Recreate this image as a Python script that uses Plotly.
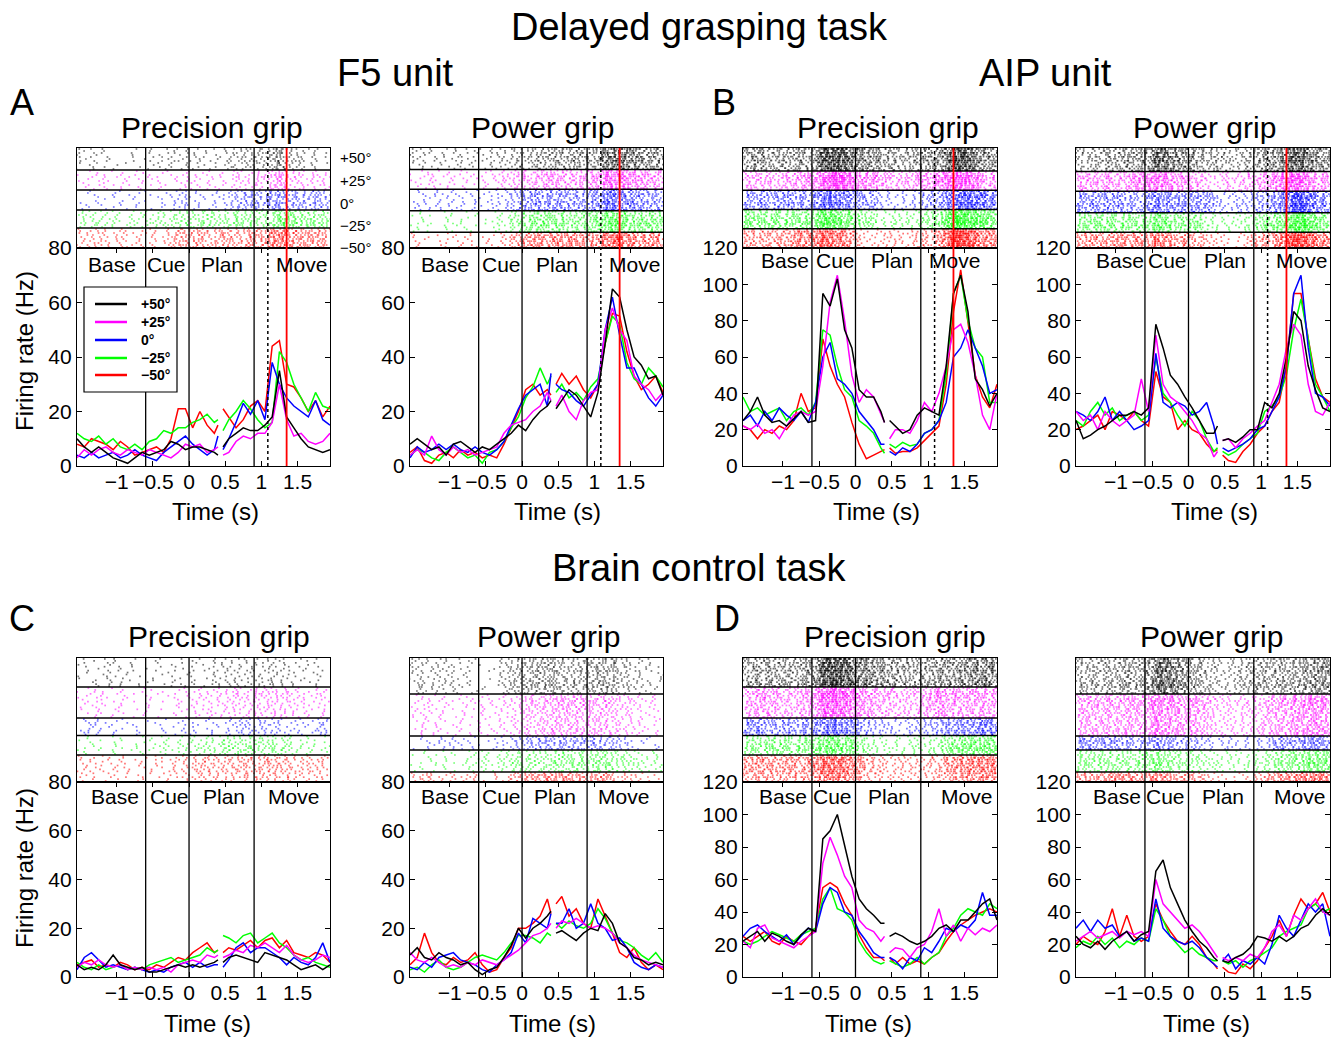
import numpy as np
import plotly.graph_objects as go

W, H = 1339, 1039
FONT = "Liberation Sans, Arial, Helvetica, sans-serif"

# ---------------- data ----------------
CONDITIONS = ["+50°", "+25°", "0°", "−25°", "−50°"]
COLORS = ["#000000", "#FF00FF", "#0000FF", "#00FF00", "#FF0000"]
T1 = [-1.55, -1.45, -1.35, -1.25, -1.15, -1.05, -0.95, -0.85, -0.75, -0.65, -0.55,
      -0.45, -0.35, -0.25, -0.15, -0.05, 0.05, 0.15, 0.25, 0.35, 0.40]
T2 = [0.47, 0.55, 0.65, 0.75, 0.85, 0.95, 1.05, 1.15, 1.25, 1.35, 1.45, 1.55, 1.65, 1.75, 1.85, 1.95]
X_TICKS = [-1, -0.5, 0, 0.5, 1, 1.5]
X_TICK_LABELS = ["−1", "−0.5", "0", "0.5", "1", "1.5"]
EPOCHS = ["Base", "Cue", "Plan", "Move"]
EVENT_TIMES = [-0.6, 0.0, 0.9]
GO_TIME = 1.09      # dotted line (delayed task only)
MOVE_TIME = 1.35    # red line (delayed task only)

# firing rates (Hz), segment 1 on T1, segment 2 on T2
A_PRECISION = {
    "+50°": ([10, 7, 5, 7, 5, 3, 2, 1, 3, 5, 4, 5, 6, 9, 8, 6, 7, 7, 6, 5, 4],
             [7, 10, 12, 14, 13, 13, 15, 18, 35, 18, 14, 10, 7, 6, 5, 6]),
    "+25°": ([3, 6, 4, 6, 7, 5, 4, 6, 5, 4, 6, 5, 4, 3, 5, 8, 7, 8, 5, 6, 7],
             [4, 5, 9, 11, 10, 12, 12, 16, 30, 17, 11, 12, 9, 8, 9, 12]),
    "0°": ([4, 3, 5, 3, 4, 5, 3, 4, 6, 4, 3, 2, 5, 7, 9, 11, 8, 6, 4, 6, 11],
           [6, 10, 16, 23, 19, 24, 17, 38, 30, 25, 22, 20, 18, 24, 17, 15]),
    "−25°": ([12, 10, 9, 11, 8, 10, 7, 6, 8, 6, 9, 10, 13, 12, 14, 14, 16, 17, 19, 16, 17],
             [13, 17, 20, 24, 21, 17, 14, 16, 42, 38, 30, 25, 20, 27, 22, 21]),
    "−50°": ([8, 7, 10, 9, 8, 6, 9, 7, 4, 5, 6, 7, 5, 10, 21, 21, 14, 20, 15, 12, 15],
             [21, 18, 14, 17, 22, 24, 20, 44, 46, 30, 29, 25, 20, 24, 18, 22]),
}
A_POWER = {
    "+50°": ([8, 10, 8, 6, 7, 4, 8, 9, 7, 5, 7, 6, 8, 10, 12, 15, 13, 17, 20, 22, 24],
             [21, 24, 28, 26, 22, 18, 27, 45, 65, 62, 50, 40, 37, 32, 33, 26]),
    "+25°": ([4, 6, 4, 11, 6, 4, 7, 5, 6, 4, 5, 6, 7, 12, 15, 16, 17, 20, 22, 27, 24],
             [22, 26, 20, 17, 24, 27, 28, 50, 58, 50, 46, 33, 30, 28, 24, 27]),
    "0°": ([3, 7, 5, 6, 8, 6, 8, 6, 5, 7, 5, 4, 6, 9, 15, 21, 26, 28, 30, 22, 34],
           [30, 28, 27, 24, 22, 26, 30, 50, 62, 48, 36, 36, 30, 25, 22, 26]),
    "−25°": ([4, 6, 5, 3, 2, 5, 7, 5, 3, 4, 1, 5, 6, 9, 14, 18, 25, 29, 36, 30, 33],
             [27, 30, 25, 27, 24, 29, 32, 45, 55, 52, 38, 32, 30, 36, 33, 29]),
    "−50°": ([5, 7, 2, 1, 4, 5, 3, 6, 4, 5, 3, 4, 3, 8, 14, 20, 28, 30, 26, 28, 26],
             [30, 34, 30, 33, 28, 25, 30, 45, 56, 55, 42, 33, 28, 30, 33, 27]),
}
B_PRECISION = {
    "+50°": ([25, 30, 38, 28, 24, 25, 22, 26, 30, 24, 25, 95, 88, 103, 75, 65, 42, 38, 38, 30, 24],
             [25, 22, 18, 20, 28, 32, 30, 28, 55, 95, 105, 85, 48, 42, 33, 40]),
    "+25°": ([22, 20, 23, 18, 20, 15, 22, 28, 30, 28, 30, 55, 90, 105, 80, 50, 35, 42, 38, 28, 24],
             [15, 20, 20, 18, 25, 35, 30, 40, 55, 75, 78, 68, 50, 28, 20, 40]),
    "0°": ([25, 28, 22, 30, 25, 32, 28, 25, 30, 24, 35, 60, 68, 48, 45, 40, 30, 25, 20, 12, 12],
           [8, 6, 10, 8, 12, 18, 20, 25, 35, 60, 65, 75, 65, 55, 40, 42]),
    "−25°": ([38, 30, 32, 28, 30, 32, 25, 30, 32, 28, 35, 75, 72, 55, 42, 38, 25, 22, 18, 10, 7],
             [12, 10, 13, 11, 12, 18, 20, 25, 50, 95, 105, 80, 65, 60, 35, 35]),
    "−50°": ([22, 20, 15, 20, 18, 22, 20, 25, 40, 30, 32, 70, 55, 45, 38, 24, 12, 4, 6, 8, 9],
             [10, 7, 8, 8, 10, 14, 18, 22, 45, 85, 108, 80, 50, 38, 32, 45]),
}
B_POWER = {
    "+50°": ([25, 15, 17, 20, 22, 25, 28, 28, 30, 28, 32, 78, 65, 50, 45, 38, 32, 25, 18, 18, 22],
             [14, 15, 13, 16, 20, 20, 35, 32, 40, 60, 85, 80, 55, 42, 32, 30]),
    "+25°": ([30, 25, 28, 20, 30, 25, 22, 25, 28, 48, 30, 72, 45, 38, 35, 30, 25, 18, 15, 5, 8],
             [14, 15, 10, 15, 18, 22, 25, 35, 45, 65, 78, 72, 45, 30, 28, 35]),
    "0°": ([30, 28, 25, 30, 38, 25, 30, 25, 20, 22, 25, 62, 35, 32, 35, 33, 28, 30, 35, 22, 12],
           [10, 8, 10, 12, 15, 20, 22, 30, 38, 55, 95, 105, 65, 40, 38, 33]),
    "−25°": ([25, 22, 30, 35, 28, 32, 25, 28, 30, 25, 28, 60, 40, 35, 28, 22, 30, 25, 15, 8, 10],
             [8, 6, 8, 12, 15, 18, 30, 33, 38, 50, 75, 92, 70, 45, 38, 30]),
    "−50°": ([20, 22, 25, 28, 20, 30, 28, 25, 30, 25, 22, 52, 38, 35, 20, 25, 20, 18, 12, 8, 9],
             [6, 3, 2, 8, 12, 18, 22, 30, 35, 55, 95, 95, 70, 48, 38, 35]),
}
C_PRECISION = {
    "+50°": ([5, 3, 4, 3, 5, 9, 5, 4, 3, 4, 2, 2, 3, 4, 5, 4, 5, 4, 5, 6, 7],
             [6, 8, 9, 8, 7, 6, 10, 9, 8, 7, 5, 3, 4, 5, 3, 5]),
    "+25°": ([4, 6, 5, 7, 5, 4, 5, 3, 4, 3, 4, 3, 4, 2, 5, 6, 7, 6, 9, 8, 9],
             [8, 9, 11, 10, 13, 12, 14, 12, 10, 13, 9, 7, 6, 7, 9, 8]),
    "0°": ([3, 8, 10, 7, 4, 5, 4, 3, 4, 3, 2, 3, 2, 4, 5, 6, 4, 6, 4, 5, 5],
           [4, 7, 12, 14, 10, 12, 12, 10, 8, 5, 8, 6, 5, 8, 14, 6]),
    "−25°": ([6, 4, 3, 5, 3, 4, 5, 3, 4, 3, 5, 6, 7, 8, 6, 7, 8, 9, 12, 10, 11],
             [17, 16, 14, 17, 18, 14, 16, 18, 14, 12, 9, 7, 8, 6, 5, 4]),
    "−50°": ([5, 6, 7, 4, 5, 4, 6, 5, 3, 4, 3, 5, 4, 6, 8, 7, 10, 12, 14, 10, 11],
             [10, 12, 11, 13, 15, 12, 15, 16, 12, 15, 10, 9, 8, 10, 9, 6]),
}
C_POWER = {
    "+50°": ([9, 12, 8, 7, 10, 8, 7, 5, 6, 3, 1, 3, 4, 8, 13, 20, 16, 20, 22, 25, 27],
             [18, 19, 17, 15, 18, 20, 19, 26, 22, 14, 12, 8, 7, 5, 6, 5]),
    "+25°": ([10, 7, 6, 8, 6, 4, 5, 4, 6, 5, 7, 6, 5, 7, 9, 11, 14, 17, 18, 20, 22],
             [20, 23, 22, 24, 22, 20, 21, 20, 18, 14, 12, 9, 7, 6, 5, 4]),
    "0°": ([4, 3, 6, 4, 8, 9, 10, 7, 6, 5, 3, 2, 5, 7, 10, 18, 14, 24, 22, 20, 26],
           [22, 22, 28, 20, 22, 30, 22, 20, 15, 16, 12, 6, 4, 3, 5, 4]),
    "−25°": ([3, 4, 2, 5, 7, 4, 3, 4, 6, 8, 9, 8, 7, 10, 14, 17, 17, 16, 14, 18, 17],
             [22, 20, 23, 21, 20, 22, 28, 24, 18, 15, 14, 12, 9, 7, 10, 6]),
    "−50°": ([5, 8, 18, 10, 6, 5, 8, 6, 7, 10, 5, 2, 3, 8, 12, 20, 20, 22, 25, 32, 26],
             [30, 33, 25, 28, 22, 20, 32, 25, 18, 10, 8, 12, 6, 3, 5, 3]),
}
D_PRECISION = {
    "+50°": ([22, 25, 28, 22, 27, 25, 22, 20, 26, 30, 28, 85, 90, 100, 80, 62, 48, 42, 38, 33, 33],
             [25, 27, 25, 22, 20, 22, 25, 30, 32, 28, 35, 35, 40, 45, 48, 35]),
    "+25°": ([22, 18, 30, 32, 24, 22, 20, 18, 22, 25, 28, 70, 86, 75, 62, 55, 35, 30, 28, 22, 25],
             [15, 18, 17, 12, 18, 20, 28, 42, 25, 32, 22, 30, 26, 30, 28, 32]),
    "0°": ([25, 30, 32, 28, 25, 22, 26, 20, 25, 30, 28, 45, 55, 52, 40, 38, 28, 22, 15, 12, 12],
           [12, 10, 5, 12, 10, 18, 15, 22, 30, 28, 32, 30, 35, 52, 38, 38]),
    "−25°": ([22, 20, 22, 25, 28, 26, 24, 22, 26, 28, 30, 48, 55, 42, 40, 35, 22, 15, 10, 8, 9],
             [10, 8, 6, 8, 12, 8, 12, 15, 25, 30, 38, 42, 40, 38, 45, 42]),
    "−50°": ([25, 22, 25, 28, 22, 20, 25, 22, 20, 25, 30, 55, 58, 55, 45, 38, 26, 18, 12, 12, 10],
             [12, 8, 12, 8, 10, 8, 12, 15, 22, 28, 32, 35, 38, 40, 42, 40]),
}
D_POWER = {
    "+50°": ([25, 20, 18, 22, 17, 22, 25, 28, 22, 26, 28, 65, 72, 55, 45, 35, 28, 22, 18, 12, 10],
             [10, 9, 12, 14, 18, 25, 24, 22, 25, 22, 25, 30, 32, 38, 42, 38]),
    "+25°": ([22, 25, 28, 24, 26, 28, 24, 28, 26, 28, 25, 60, 45, 40, 35, 30, 32, 28, 22, 15, 12],
             [12, 10, 12, 10, 14, 12, 18, 28, 32, 25, 38, 35, 42, 48, 40, 38]),
    "0°": ([30, 35, 28, 35, 30, 32, 25, 28, 22, 24, 22, 48, 30, 25, 22, 20, 22, 18, 12, 8, 6],
           [10, 14, 5, 10, 8, 12, 8, 20, 38, 30, 25, 35, 45, 40, 45, 25]),
    "−25°": ([18, 22, 20, 25, 20, 24, 18, 22, 20, 24, 22, 42, 35, 25, 20, 15, 18, 14, 12, 10, 10],
             [10, 8, 10, 6, 10, 12, 15, 18, 25, 28, 30, 32, 42, 45, 40, 42]),
    "−50°": ([20, 25, 22, 20, 28, 42, 25, 38, 25, 22, 25, 45, 35, 28, 22, 20, 25, 20, 12, 8, 5],
             [6, 3, 2, 8, 5, 10, 18, 25, 35, 25, 38, 48, 42, 45, 52, 40]),
}

# trials per condition (raster rows)
TRIALS_A_PRECISION = [11, 10, 10, 9, 10]
TRIALS_A_POWER = [11, 10, 11, 11, 8]
TRIALS_B_PRECISION = [12, 10, 10, 10, 10]
TRIALS_B_POWER = [12, 10, 11, 10, 8]
TRIALS_C_PRECISION = [15, 16, 9, 10, 14]
TRIALS_C_POWER = [18, 21, 7, 11, 5]
TRIALS_D_PRECISION = [15, 16, 9, 10, 14]
TRIALS_D_POWER = [18, 21, 7, 11, 5]

# ---------------- layout geometry (pixels) ----------------
TOP = dict(rt=148, pt=248, pb=466)
BOT = dict(rt=658, pt=782, pb=977)
COLS = [(77, 330), (410, 663), (743, 997), (1076, 1330)]

PANELS = [
    dict(data=A_PRECISION, trials=TRIALS_A_PRECISION, col=0, row=TOP, ymax=80, delayed=True,
         title="Precision grip", tx=212, ty=127, timex=215, timey=511,
         ep=[-1.07, -0.31, 0.46, 1.55], epy=74),
    dict(data=A_POWER, trials=TRIALS_A_POWER, col=1, row=TOP, ymax=80, delayed=True,
         title="Power grip", tx=542, ty=127, timex=557, timey=511,
         ep=[-1.07, -0.28, 0.49, 1.56], epy=74),
    dict(data=B_PRECISION, trials=TRIALS_B_PRECISION, col=2, row=TOP, ymax=120, delayed=True,
         title="Precision grip", tx=888, ty=127, timex=876, timey=511,
         ep=[-0.97, -0.28, 0.50, 1.37], epy=113),
    dict(data=B_POWER, trials=TRIALS_B_POWER, col=3, row=TOP, ymax=120, delayed=True,
         title="Power grip", tx=1204, ty=127, timex=1214, timey=511,
         ep=[-0.95, -0.29, 0.50, 1.56], epy=113),
    dict(data=C_PRECISION, trials=TRIALS_C_PRECISION, col=0, row=BOT, ymax=80, delayed=False,
         title="Precision grip", tx=219, ty=636, timex=208, timey=1023,
         ep=[-1.03, -0.27, 0.49, 1.44], epy=74),
    dict(data=C_POWER, trials=TRIALS_C_POWER, col=1, row=BOT, ymax=80, delayed=False,
         title="Power grip", tx=548, ty=636, timex=552, timey=1023,
         ep=[-1.07, -0.28, 0.46, 1.41], epy=74),
    dict(data=D_PRECISION, trials=TRIALS_D_PRECISION, col=2, row=BOT, ymax=120, delayed=False,
         title="Precision grip", tx=895, ty=636, timex=868, timey=1023,
         ep=[-1.00, -0.32, 0.46, 1.53], epy=111),
    dict(data=D_POWER, trials=TRIALS_D_POWER, col=3, row=BOT, ymax=120, delayed=False,
         title="Power grip", tx=1211, ty=636, timex=1206, timey=1023,
         ep=[-0.98, -0.31, 0.47, 1.53], epy=111),
]
XRANGE = [-1.55, 1.95]

# legend box (pixels) drawn inside panel A
LEG_BOX = (84, 287, 177, 392)
LEG_ROWS = [304, 322, 340, 358, 375]


def px(x):
    return x / W


def py(y):
    return 1 - y / H


def aid(letter, n):
    return letter if n == 1 else f"{letter}{n}"


def raster_spikes(seg1, seg2, ntr, offset, ci):
    """Deterministic spike times derived from the firing-rate curve (integrate and fire,
    with quadratic Weyl-sequence phases so the rows do not line up)."""
    dt = 0.002
    grid = np.arange(XRANGE[0], XRANGE[1], dt)
    rate = np.interp(grid, T1 + T2, list(seg1) + list(seg2))
    xs, ys = [], []
    for k in range(ntr):
        kk = k + 1 + 37 * ci
        phase = (kk * kk * 0.6180339887) % 1.0
        gain = 0.55 + 0.5 * ((kk * kk * 0.7548776662) % 1.0)
        acc = phase + np.cumsum(rate * dt * gain)
        idx = np.nonzero(np.diff(np.floor(acc)) > 0)[0] + 1
        t = grid[idx]
        j = np.arange(1, len(t) + 1)
        frac = (j * j * 0.4142135624 + j * kk * 0.7320508076 + kk * 0.2360679775) % 1.0
        t = t + (frac - 0.5) * 0.09
        xs.extend(t.tolist())
        ys.extend([offset + k + 0.5] * len(t))
    return xs, ys


fig = go.Figure()
layout = dict()
shapes = []
annotations = []

axis_common = dict(showgrid=False, zeroline=False, showline=True, linecolor="black",
                   linewidth=1.3, automargin=False)

for p, P in enumerate(PANELS):
    n = 2 * p + 1  # raster axis
    m = 2 * p + 2  # psth axis
    xn, yn, xm, ym = aid("x", n), aid("y", n), aid("x", m), aid("y", m)
    x0, x1 = COLS[P["col"]]
    R = P["row"]
    dom = [px(x0), px(x1)]
    N = sum(P["trials"])

    layout[f"xaxis{n}"] = dict(domain=dom, anchor=yn, range=XRANGE, showticklabels=False,
                               ticks="", mirror=True, **axis_common)
    layout[f"yaxis{n}"] = dict(domain=[py(R["pt"]), py(R["rt"])], anchor=xn, range=[N, 0],
                               showticklabels=False, ticks="", mirror=True, **axis_common)
    layout[f"xaxis{m}"] = dict(domain=dom, anchor=ym, range=XRANGE, tickvals=X_TICKS,
                               ticktext=X_TICK_LABELS, ticks="inside", ticklen=5, tickcolor="black",
                               mirror="ticks", ticklabelstandoff=-3,
                               tickfont=dict(family=FONT, size=21, color="black"), **axis_common)
    layout[f"yaxis{m}"] = dict(domain=[py(R["pb"]), py(R["pt"])], anchor=xm,
                               range=[0, P["ymax"]], tickvals=list(range(0, P["ymax"] + 1, 20)),
                               ticks="inside", ticklen=5, tickcolor="black", mirror="ticks",
                               tickfont=dict(family=FONT, size=21, color="black"), **axis_common)

    # raster
    offset = 0
    for ci, cond in enumerate(CONDITIONS):
        seg1, seg2 = P["data"][cond]
        ntr = P["trials"][ci]
        xs, ys = raster_spikes(seg1, seg2, ntr, offset, ci)
        fig.add_trace(go.Scatter(x=xs, y=ys, mode="markers", xaxis=xn, yaxis=yn,
                                 marker=dict(symbol="square", size=1.7, color=COLORS[ci],
                                             opacity=0.55, line=dict(width=0)),
                                 showlegend=False, hoverinfo="skip"))
        offset += ntr
        if ci < len(CONDITIONS) - 1:
            shapes.append(dict(type="line", xref=f"{xn} domain", yref=yn, x0=0, x1=1,
                               y0=offset, y1=offset, line=dict(color="black", width=1.5),
                               layer="above"))

    # PSTH traces (plotted in reverse so black ends on top)
    for ci in reversed(range(len(CONDITIONS))):
        cond = CONDITIONS[ci]
        seg1, seg2 = P["data"][cond]
        fig.add_trace(go.Scatter(x=T1 + [None] + T2, y=list(seg1) + [None] + list(seg2),
                                 mode="lines", xaxis=xm, yaxis=ym,
                                 line=dict(color=COLORS[ci], width=1.5),
                                 name=cond, showlegend=False, connectgaps=False))

    # event lines spanning raster + PSTH
    for et in EVENT_TIMES:
        shapes.append(dict(type="line", xref=xm, yref="paper", x0=et, x1=et,
                           y0=py(R["pb"]), y1=py(R["rt"]), line=dict(color="black", width=1.3),
                           layer="above"))
    if P["delayed"]:
        shapes.append(dict(type="line", xref=xm, yref="paper", x0=GO_TIME, x1=GO_TIME,
                           y0=py(R["pb"]), y1=py(R["rt"]),
                           line=dict(color="black", width=1.5, dash="dot"), layer="above"))
        shapes.append(dict(type="line", xref=xm, yref="paper", x0=MOVE_TIME, x1=MOVE_TIME,
                           y0=py(R["pb"]), y1=py(R["rt"]), line=dict(color="#FF0000", width=1.8),
                           layer="above"))

    # epoch labels
    for lab, ex in zip(EPOCHS, P["ep"]):
        annotations.append(dict(text=lab, x=ex, y=P["epy"], xref=xm, yref=ym,
                                showarrow=False, xanchor="center", yanchor="middle",
                                font=dict(family=FONT, size=21, color="black")))
    # panel title and x label
    annotations.append(dict(text=P["title"], x=px(P["tx"]), y=py(P["ty"]), xref="paper",
                            yref="paper", showarrow=False, xanchor="center", yanchor="middle",
                            font=dict(family=FONT, size=30, color="black")))
    annotations.append(dict(text="Time (s)", x=px(P["timex"]), y=py(P["timey"]), xref="paper",
                            yref="paper", showarrow=False, xanchor="center", yanchor="middle",
                            font=dict(family=FONT, size=24, color="black")))

# legend (drawn as box + line samples + bold labels)
lx0, ly0, lx1, ly1 = LEG_BOX
shapes.append(dict(type="rect", xref="paper", yref="paper", x0=px(lx0), x1=px(lx1),
                   y0=py(ly1), y1=py(ly0), line=dict(color="black", width=1.2),
                   fillcolor="white", layer="above"))
for ci, cond in enumerate(CONDITIONS):
    yy = LEG_ROWS[ci]
    shapes.append(dict(type="line", xref="paper", yref="paper", x0=px(95), x1=px(127),
                       y0=py(yy), y1=py(yy), line=dict(color=COLORS[ci], width=2.5),
                       layer="above"))
    annotations.append(dict(text="<b>" + cond + "</b>", x=px(139), y=py(yy), xref="paper",
                            yref="paper", showarrow=False, xanchor="left", yanchor="middle",
                            font=dict(family=FONT, size=14, color="black")))

# big titles
for txt, x, y, s in [("Delayed grasping task", 700, 27, 38), ("F5 unit", 395, 73, 38),
                     ("AIP unit", 1045, 73, 38), ("Brain control task", 700, 568, 38)]:
    annotations.append(dict(text=txt, x=px(x), y=py(y), xref="paper", yref="paper",
                            showarrow=False, xanchor="center", yanchor="middle",
                            font=dict(family=FONT, size=s, color="black")))
for txt, x, y in [("A", 22, 103), ("B", 724, 103), ("C", 22, 618), ("D", 727, 618)]:
    annotations.append(dict(text=txt, x=px(x), y=py(y), xref="paper", yref="paper",
                            showarrow=False, xanchor="center", yanchor="middle",
                            font=dict(family=FONT, size=36, color="black")))
for y in [351, 868]:
    annotations.append(dict(text="Firing rate (Hz)", x=px(24), y=py(y), xref="paper",
                            yref="paper", showarrow=False, textangle=-90, xanchor="center",
                            yanchor="middle", font=dict(family=FONT, size=24, color="black")))
# condition labels to the right of the first raster
for txt, y in zip(CONDITIONS, [157, 180, 204, 226, 247]):
    annotations.append(dict(text=txt, x=px(338), y=py(y), xref="paper", yref="paper",
                            showarrow=False, xanchor="left", yanchor="middle",
                            font=dict(family=FONT, size=15, color="black")))

fig.update_layout(
    width=W, height=H, margin=dict(l=0, r=0, t=0, b=0, pad=0, autoexpand=False),
    paper_bgcolor="white", plot_bgcolor="white", showlegend=False,
    shapes=shapes, annotations=annotations,
    **layout,
)

fig.write_html("out.html")
